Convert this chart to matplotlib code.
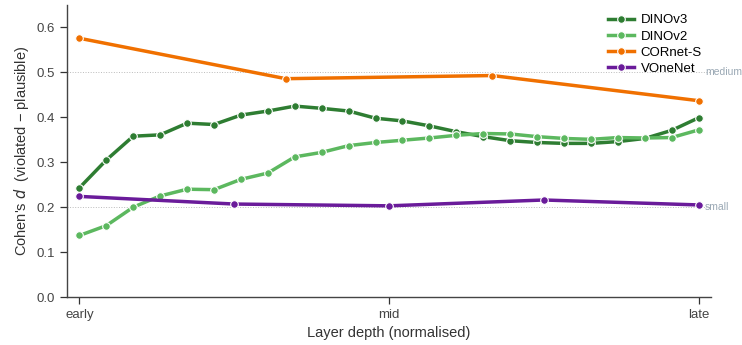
import numpy as np
import matplotlib
matplotlib.use("Agg")
import matplotlib.pyplot as plt

# data
dinov3 = [0.243, 0.305, 0.358, 0.361, 0.387, 0.384, 0.405, 0.414, 0.425, 0.420, 0.414, 0.398,
          0.392, 0.381, 0.368, 0.357, 0.348, 0.344, 0.342, 0.342, 0.346, 0.353, 0.371, 0.399]
dinov2 = [0.137, 0.159, 0.200, 0.225, 0.240, 0.239, 0.262, 0.276, 0.312, 0.322, 0.337, 0.344,
          0.349, 0.354, 0.360, 0.364, 0.363, 0.357, 0.353, 0.351, 0.355, 0.354, 0.355, 0.372]
cornet = [0.576, 0.486, 0.493, 0.437]
vonenet = [0.224, 0.207, 0.203, 0.216, 0.205]

names = ["DINOv3", "DINOv2", "CORnet-S", "VOneNet"]
colors = ["#2e7d32", "#5cb85f", "#f07000", "#6a1b9a"]
series = [dinov3, dinov2, cornet, vonenet]

thresholds = [0.2, 0.5]
threshold_labels = ["small", "medium"]

xtick_pos = [0, 0.5, 1]
xtick_labels = ["early", "mid", "late"]

plt.rcParams["font.family"] = ["Liberation Sans", "DejaVu Sans"]

fig = plt.figure(figsize=(7.42, 3.45), dpi=100)
ax = fig.add_axes([0.0903, 0.139, 0.868, 0.8465])

for t, lab in zip(thresholds, threshold_labels):
    ax.axhline(t, color="#bbbbbb", lw=0.7, ls=":", zorder=1)
    ax.text(1.01, t, lab, color="#9aa8b4", fontsize=7.5, va="center", ha="left",
            clip_on=False)

for name, col, vals in zip(names, colors, series):
    x = np.linspace(0, 1, len(vals))
    ax.plot(x, vals, color=col, lw=2.5, marker="o", ms=5.5, mec="white", mew=0.8,
            label=name, zorder=3)

ax.set_xlim(-0.02, 1.02)
ax.set_ylim(0, 0.65)
ax.set_xticks(xtick_pos)
ax.set_xticklabels(xtick_labels)
ax.set_yticks(np.arange(0, 0.61, 0.1))
ax.set_yticklabels([f"{v:.1f}" for v in np.arange(0, 0.61, 0.1)])
ax.tick_params(labelsize=9.5, colors="#333333", length=5, width=0.9, labelcolor="#444444")

ax.spines["top"].set_visible(False)
ax.spines["right"].set_visible(False)
for s in ["left", "bottom"]:
    ax.spines[s].set_color("#444444")
    ax.spines[s].set_linewidth(1.0)

ax.set_xlabel("Layer depth (normalised)", fontsize=10.5, color="#333333")
ax.set_ylabel("Cohen's $d$  (violated \u2212 plausible)", fontsize=10.5, color="#333333")

leg = ax.legend(loc="upper right", frameon=False, fontsize=9.5, handlelength=2,
                borderaxespad=0.3, labelspacing=0.3, handletextpad=0.5)

fig.savefig("out.png", dpi=100)
